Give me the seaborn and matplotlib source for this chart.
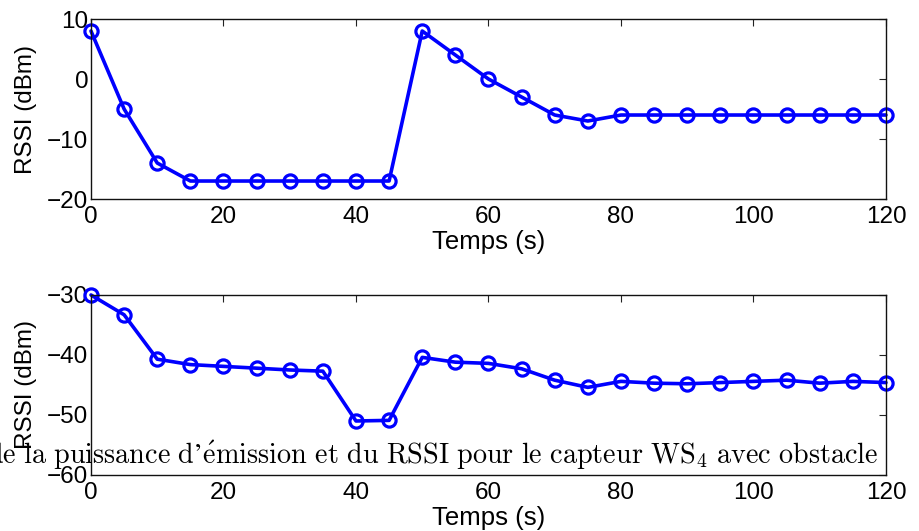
import matplotlib
matplotlib.use("Agg")
import matplotlib.pyplot as plt
import seaborn as sns

# temps (s)
temps = [0, 5, 10, 15, 20, 25, 30, 35, 40, 45, 50, 55, 60, 65, 70, 75, 80,
         85, 90, 95, 100, 105, 110, 115, 120]

# RSSI haut (dBm)
rssi_haut = [8, -5, -14, -17, -17, -17, -17, -17, -17, -17, 8, 4, 0, -3, -6, -7,
             -6, -6, -6, -6, -6, -6, -6, -6, -6]

# RSSI bas (dBm)
rssi_bas = [-30, -33.3, -40.7, -41.6, -41.9, -42.2, -42.5, -42.7, -51, -50.9,
            -40.4, -41.2, -41.4, -42.3, -44.2, -45.4, -44.4, -44.7, -44.8, -44.6,
            -44.4, -44.2, -44.7, -44.4, -44.6]

ylims = [(-20, 10), (-60, -30)]
yticks = [[-20, -10, 0, 10], [-60, -50, -40, -30]]
xticks = [0, 20, 40, 60, 80, 100, 120]

legende = (r"$\mathrm{de\ la\ puissance\ d’\acute{e}mission\ et\ du\ RSSI\ pour"
           r"\ le\ capteur\ WS_4\ avec\ obstacle}$")

sns.set_style("white")
plt.rcParams['font.family'] = ['Liberation Sans', 'DejaVu Sans']
plt.rcParams['mathtext.fontset'] = 'cm'
plt.rcParams['text.color'] = 'black'
plt.rcParams['axes.labelcolor'] = 'black'
plt.rcParams['xtick.color'] = 'black'
plt.rcParams['ytick.color'] = 'black'

fig = plt.figure(figsize=(9.2, 5.31), dpi=100)
ax1 = fig.add_axes([0.0989, 0.6252, 0.8641, 0.339])
ax2 = fig.add_axes([0.0989, 0.1055, 0.8641, 0.339])

for ax, y, lim, yt in zip([ax1, ax2], [rssi_haut, rssi_bas], ylims, yticks):
    sns.lineplot(x=temps, y=y, ax=ax, color='#0000ff', lw=2.6, marker='o',
                 markersize=9.5, mfc='none', mec='#0000ff', mew=2.3)
    ax.set_xlim(0, 120)
    ax.set_ylim(*lim)
    ax.set_xticks(xticks)
    ax.set_yticks(yt)
    ax.tick_params(direction='in', length=5, width=0.8, top=True, right=True,
                   labelsize=17.5, color='#222222')
    ax.tick_params(axis='x', pad=5)
    ax.tick_params(axis='y', pad=2)
    for s in ax.spines.values():
        s.set_color('#111111')
        s.set_linewidth(1.0)
        s.set_visible(True)
    ax.set_xlabel('Temps (s)', fontsize=18.5, labelpad=1.5)
    ax.set_ylabel('RSSI (dBm)', fontsize=17.5, labelpad=7.5)
    for ln in ax.lines:
        ln.set_clip_on(False)

fig.text(0.955, 0.126, legende, ha='right', va='baseline', fontsize=20.3,
         zorder=10)

fig.savefig('out.png', dpi=100)
